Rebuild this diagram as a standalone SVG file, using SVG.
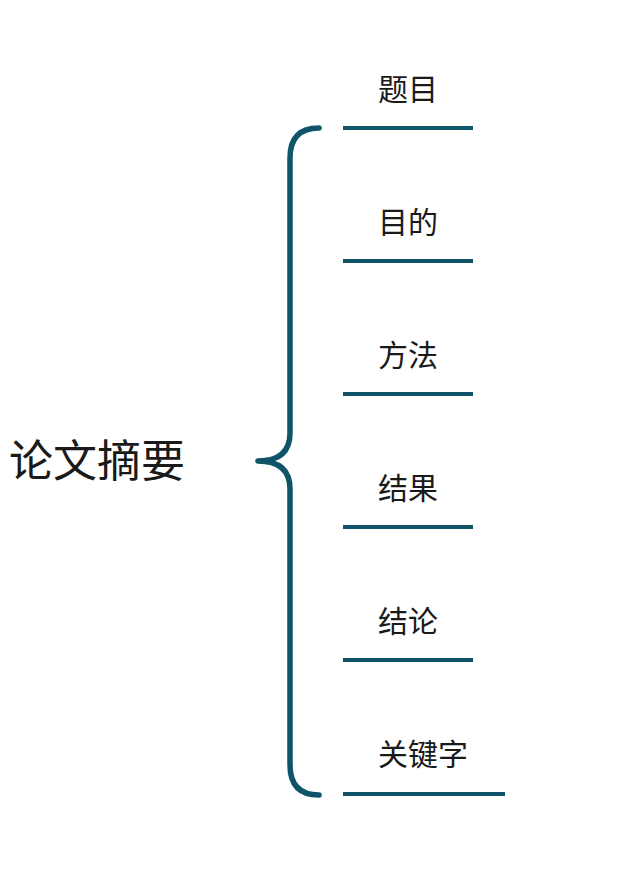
<svg xmlns="http://www.w3.org/2000/svg" width="640" height="886" viewBox="0 0 640 886">
<style>
.t{font-family:"Noto Sans CJK SC","Noto Sans",sans-serif;fill:#1a1a1a;}
.item{font-size:30px;}
.main{font-size:44px;}
.ln{stroke:#0f5468;stroke-width:4;fill:none;}
.br{stroke:#0f5468;stroke-width:5.5;fill:none;stroke-linecap:round;stroke-linejoin:round;}
</style>
<rect width="640" height="886" fill="#ffffff"/>
<g id="root"><text class="t main" x="9" y="477">论文摘要</text></g>
<g id="connectors">
<path class="br" d="M319,128 Q290,128 290,158 L290,433 C290,453 278,461 258,461 C278,461 290,469 290,489 L290,765 Q290,795 319,795"/>
<line class="ln" x1="343" y1="128" x2="473" y2="128"/>
<line class="ln" x1="343" y1="261" x2="473" y2="261"/>
<line class="ln" x1="343" y1="394" x2="473" y2="394"/>
<line class="ln" x1="343" y1="527" x2="473" y2="527"/>
<line class="ln" x1="343" y1="660" x2="473" y2="660"/>
<line class="ln" x1="343" y1="794" x2="505" y2="794"/>
</g>
<g id="n1"><text class="t item" x="378" y="100">题目</text></g>
<g id="n2"><text class="t item" x="378" y="233">目的</text></g>
<g id="n3"><text class="t item" x="378" y="366">方法</text></g>
<g id="n4"><text class="t item" x="378" y="499">结果</text></g>
<g id="n5"><text class="t item" x="378" y="632">结论</text></g>
<g id="n6"><text class="t item" x="378" y="765">关键字</text></g>
</svg>
